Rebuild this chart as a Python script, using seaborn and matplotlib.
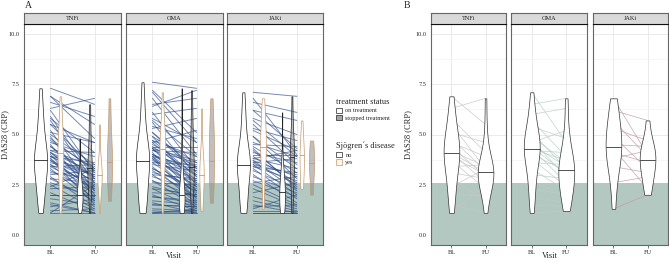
import numpy as np
import pandas as pd
import matplotlib.pyplot as plt
import seaborn as sns
from matplotlib.patches import Patch

# ---------- data: DAS28 (CRP) at baseline (BL) and follow-up (FU) ----------
drugs = ["TNFi", "OMA", "JAKi"]
visits = ["BL", "FU"]
y_ticks = [0.0, 2.5, 5.0, 7.5, 10.0]
remission_cut = 2.6

# Sjögren = no
tnfi_no_bl = [7.3, 6.9, 6.6, 6.2, 5.9, 5.7, 5.5, 5.2, 5.0, 4.9, 4.7, 4.5, 4.4, 4.2, 4.1, 4.0, 3.9, 3.9, 3.8, 3.8,
              3.7, 3.6, 3.5, 3.5, 3.4, 3.3, 3.2, 3.0, 2.9, 2.8, 2.6, 2.5, 2.3, 2.1, 2.0, 1.8, 1.6, 1.4, 1.2, 1.1]
tnfi_no_fu = [6.5, 4.8, 5.9, 3.1, 2.8, 2.6, 4.6, 2.2, 3.5, 2.0, 3.3, 1.9, 2.8, 4.1, 2.4, 1.7, 2.9, 3.6, 2.2, 1.5,
              2.7, 3.0, 1.8, 2.5, 2.3, 1.6, 2.1, 3.2, 1.4, 2.6, 1.9, 1.3, 2.4, 1.2, 2.0, 1.5, 1.1, 1.8, 1.3, 1.1]
tnfi_no_stop = [1, 0, 1, 0, 1, 0, 1, 0, 1, 0, 0, 0, 0, 1, 0, 0, 0, 1, 0, 0,
                0, 1, 0, 0, 0, 0, 0, 1, 0, 1, 0, 0, 1, 0, 0, 0, 0, 0, 0, 1]

oma_no_bl = [7.6, 7.2, 6.8, 6.4, 6.1, 5.8, 5.6, 5.3, 5.1, 4.9, 4.7, 4.6, 4.4, 4.3, 4.2, 4.1, 4.0, 4.0, 3.9, 3.9,
             3.9, 3.8, 3.7, 3.6, 3.5, 3.4, 3.3, 3.2, 3.1, 3.0, 2.9, 2.7, 2.6, 2.4, 2.3, 2.1, 2.0, 1.9, 1.7, 1.6,
             1.5, 1.3, 1.2, 1.1, 1.1]
oma_no_fu = [7.3, 5.1, 4.0, 7.2, 3.3, 4.6, 2.9, 5.8, 3.1, 2.5, 3.9, 2.7, 4.4, 2.2, 3.6, 2.0, 3.0, 2.6, 1.8, 3.4,
             2.4, 1.7, 2.8, 2.1, 3.2, 1.6, 2.3, 1.9, 2.7, 1.5, 2.2, 1.4, 2.5, 1.9, 1.3, 2.0, 1.2, 1.7, 1.5, 1.1,
             1.4, 1.2, 1.1, 1.3, 1.1]
oma_no_stop = [0, 1, 0, 1, 0, 0, 0, 1, 0, 0, 1, 0, 0, 0, 1, 0, 1, 0, 0, 1,
               0, 0, 0, 0, 1, 0, 0, 0, 1, 0, 0, 0, 1, 0, 0, 0, 0, 0, 0, 1,
               0, 0, 0, 0, 0]

jaki_no_bl = [7.1, 6.6, 6.2, 5.8, 5.5, 5.2, 4.9, 4.6, 4.4, 4.2, 4.0, 3.9, 3.8, 3.7, 3.7, 3.6, 3.6, 3.5, 3.5, 3.4,
              3.3, 3.2, 3.0, 2.9, 2.7, 2.5, 2.3, 2.1, 1.9, 1.7, 1.5, 1.4, 1.2, 1.1, 1.1]
jaki_no_fu = [6.9, 6.1, 4.3, 5.0, 3.5, 4.2, 2.8, 3.9, 3.1, 2.4, 4.0, 2.6, 3.3, 2.2, 2.9, 3.8, 2.5, 2.0, 3.0, 2.7,
              1.8, 2.3, 1.6, 2.1, 1.9, 1.5, 1.4, 2.6, 1.3, 1.2, 1.1, 1.5, 1.2, 1.1, 1.1]
jaki_no_stop = [1, 0, 0, 1, 0, 1, 0, 1, 0, 0, 1, 0, 0, 0, 0, 1, 0, 0, 1, 0,
                0, 0, 0, 0, 0, 0, 0, 1, 0, 0, 0, 0, 0, 0, 1]

# Sjögren = yes
tnfi_yes_bl = [6.9, 6.3, 5.8, 5.5, 5.1, 4.8, 4.6, 4.4, 4.2, 4.1, 4.1, 3.9, 3.7, 3.4, 3.1, 2.8, 2.4, 2.0, 1.5, 1.1]
tnfi_yes_fu = [5.5, 6.8, 4.1, 3.3, 4.6, 3.2, 3.9, 2.9, 3.4, 3.1, 2.6, 3.0, 2.3, 3.5, 2.8, 1.7, 3.3, 2.0, 1.1, 2.5]
tnfi_yes_stop = [0, 1, 0, 0, 1, 0, 1, 0, 1, 0, 0, 1, 0, 0, 0, 1, 0, 0, 0, 0]

oma_yes_bl = [7.1, 6.5, 6.0, 5.7, 5.4, 5.1, 4.9, 4.7, 4.6, 4.5, 4.4, 4.3, 4.3, 4.2, 4.0, 3.8, 3.6, 3.3, 3.0, 2.7,
              2.3, 1.9, 1.5, 1.1]
oma_yes_fu = [4.6, 6.8, 6.3, 3.9, 4.8, 3.3, 3.6, 2.9, 5.2, 3.4, 3.0, 3.7, 2.6, 4.1, 3.2, 2.4, 3.5, 2.2, 2.8, 1.9,
              2.0, 1.6, 1.4, 1.2]
oma_yes_stop = [0, 1, 0, 0, 1, 0, 1, 0, 1, 0, 0, 1, 0, 0, 0, 1, 0, 0, 0, 0, 0, 1, 0, 0]

jaki_yes_bl = [6.8, 6.2, 5.7, 5.3, 4.9, 4.5, 4.3, 4.1, 3.8, 3.4, 2.6, 1.3]
jaki_yes_fu = [4.0, 5.7, 3.9, 4.7, 3.3, 4.4, 2.3, 3.6, 4.2, 3.1, 2.9, 2.0]
jaki_yes_stop = [0, 0, 1, 1, 0, 0, 0, 1, 0, 1, 0, 1]


def make_long(drug, sjo, bl, fu, stop):
    n = len(bl)
    wide = pd.DataFrame({
        "drug": drug, "sjogren": sjo,
        "pid": [f"{drug}-{sjo}-{i}" for i in range(n)],
        "BL": bl, "FU": fu,
        "status": np.where(np.array(stop) == 1, "stopped", "on"),
    })
    return wide.melt(id_vars=["drug", "sjogren", "pid", "status"], value_vars=visits,
                     var_name="visit", value_name="das28")


df = pd.concat([
    make_long("TNFi", "no", tnfi_no_bl, tnfi_no_fu, tnfi_no_stop),
    make_long("OMA", "no", oma_no_bl, oma_no_fu, oma_no_stop),
    make_long("JAKi", "no", jaki_no_bl, jaki_no_fu, jaki_no_stop),
    make_long("TNFi", "yes", tnfi_yes_bl, tnfi_yes_fu, tnfi_yes_stop),
    make_long("OMA", "yes", oma_yes_bl, oma_yes_fu, oma_yes_stop),
    make_long("JAKi", "yes", jaki_yes_bl, jaki_yes_fu, jaki_yes_stop),
], ignore_index=True)
df["xpos"] = df["visit"].map({"BL": 1, "FU": 2})

# ---------- style ----------
GREEN = "#b3c8c1"
BLUE = "#2b4d8a"
TAN = "#c49a6c"
DARK = "#222222"
STOP_FILL = (0.55, 0.55, 0.55, 0.55)
B_LINE = {"TNFi": "#c6c6c6", "OMA": "#b6cfc7", "JAKi": "#c49ca6"}

sns.set_style("white")
plt.rcParams["font.family"] = ["Liberation Serif", "DejaVu Serif"]

W, H = 669, 262
fig = plt.figure(figsize=(W / 100, H / 100), dpi=100)


def px_axes(x0, x1, y0, y1):
    return fig.add_axes([x0 / W, 1 - y1 / H, (x1 - x0) / W, (y1 - y0) / H])


def violin(ax, vals, pos, width, edge, fill):
    n_lines = len(ax.lines)
    n_coll = len(ax.collections)
    sns.violinplot(x=np.full(len(vals), pos), y=vals, native_scale=True, orient="x",
                   width=width, cut=0, density_norm="width", inner="quart",
                   color="white", saturation=1, linecolor=edge, linewidth=0.5,
                   inner_kws=dict(linewidth=0.6, color=edge, zorder=3.5),
                   zorder=3, ax=ax)
    for c in ax.collections[n_coll:]:
        c.set_facecolor(fill)
    # keep only the median line (ggplot draw_quantiles = 0.5)
    new = ax.lines[n_lines:]
    if len(new) == 3:
        new[0].remove()
        new[2].remove()
        new[1].set_linestyle("-")


def style_panel(ax, first):
    ax.set_xlim(0.4, 2.6)
    ax.set_ylim(-0.5, 10.5)
    ax.set_xticks([1, 2])
    ax.set_xticklabels(visits)
    ax.set_yticks(y_ticks)
    ax.set_yticks([1.25, 3.75, 6.25, 8.75], minor=True)
    ax.set_xlabel("")
    ax.set_ylabel("")
    ax.grid(True, which="major", color="#e6e6e6", lw=0.6)
    ax.grid(True, which="minor", axis="y", color="#f0f0f0", lw=0.4)
    ax.set_axisbelow(True)
    ax.axhspan(-0.5, remission_cut, color=GREEN, lw=0, zorder=0.8)
    for s in ax.spines.values():
        s.set_color("#666666")
        s.set_linewidth(0.8)
    ax.tick_params(axis="both", which="major", direction="out", length=2, width=0.5,
                   color="#444444", labelsize=4.5, pad=1.5, bottom=True)
    ax.tick_params(axis="y", which="minor", left=False)
    if first:
        ax.set_yticklabels([f"{t:.1f}" for t in y_ticks])
    else:
        ax.tick_params(axis="y", left=False, labelleft=False)


def strip(x0, x1, label):
    s = px_axes(x0, x1, 13, 24)
    s.set_facecolor("#d9d9d9")
    s.set_xticks([])
    s.set_yticks([])
    for sp in s.spines.values():
        sp.set_color("#666666")
        sp.set_linewidth(0.8)
    s.spines["bottom"].set_color("#111111")
    s.text(0.5, 0.5, label, ha="center", va="center", fontsize=4.5, transform=s.transAxes)


# ---------- Panel A ----------
a_x = [(24, 121), (126, 223), (227, 323)]
for i, drug in enumerate(drugs):
    ax = px_axes(a_x[i][0], a_x[i][1], 24, 245)
    d = df[df["drug"] == drug]
    sns.lineplot(data=d, x="xpos", y="das28", units="pid", estimator=None, color=BLUE,
                 lw=0.7, alpha=0.65, legend=False, zorder=1.5, ax=ax)
    bl = d[d["visit"] == "BL"]
    fu = d[d["visit"] == "FU"]
    violin(ax, bl[bl["sjogren"] == "no"]["das28"].values, 1 - 0.225, 0.30, DARK, "white")
    violin(ax, bl[bl["sjogren"] == "yes"]["das28"].values, 1 + 0.225, 0.13, TAN, "white")
    groups = [("no", "on", -0.3375, 0.13, DARK, "white"),
              ("no", "stopped", -0.1125, 0.10, DARK, STOP_FILL),
              ("yes", "on", 0.1125, 0.10, TAN, "white"),
              ("yes", "stopped", 0.3375, 0.12, TAN, STOP_FILL)]
    for sjo, st, off, w, ec, fc in groups:
        sub = fu[(fu["sjogren"] == sjo) & (fu["status"] == st)]["das28"].values
        violin(ax, sub, 2 + off, w, ec, fc)
    style_panel(ax, i == 0)
    strip(a_x[i][0], a_x[i][1], drug)

# ---------- Panel B (Sjögren patients) ----------
b_x = [(431, 506), (511, 587), (593, 668)]
for i, drug in enumerate(drugs):
    ax = px_axes(b_x[i][0], b_x[i][1], 24, 245)
    d = df[(df["drug"] == drug) & (df["sjogren"] == "yes")]
    sns.lineplot(data=d, x="xpos", y="das28", units="pid", estimator=None, color=B_LINE[drug],
                 lw=0.5, alpha=0.9, legend=False, zorder=1.5, ax=ax)
    for v, pos in zip(visits, [1, 2]):
        violin(ax, d[d["visit"] == v]["das28"].values, pos, 0.46, "#333333", "white")
    style_panel(ax, i == 0)
    strip(b_x[i][0], b_x[i][1], drug)

# ---------- titles / labels ----------
fig.text(25 / W, 1 - 5 / H, "A", fontsize=7, ha="left", va="center")
fig.text(404 / W, 1 - 5 / H, "B", fontsize=7, ha="left", va="center")
fig.text(5 / W, 1 - 134.5 / H, "DAS28 (CRP)", rotation=90, fontsize=6, ha="center", va="center")
fig.text(408 / W, 1 - 134.5 / H, "DAS28 (CRP)", rotation=90, fontsize=6, ha="center", va="center")
fig.text(173.5 / W, 1 - 256 / H, "Visit", fontsize=6, ha="center", va="center")
fig.text(549.5 / W, 1 - 256 / H, "Visit", fontsize=6, ha="center", va="center")

# ---------- legends ----------
leg_kw = dict(loc="upper left", frameon=False, fontsize=4.5, title_fontsize=6,
              handlelength=1.0, handleheight=0.9, handletextpad=0.5, labelspacing=0.25,
              borderpad=0, borderaxespad=0, alignment="left")
h1 = [Patch(facecolor="white", edgecolor=DARK, lw=0.5),
      Patch(facecolor="#a6a6a6", edgecolor=DARK, lw=0.5)]
fig.legend(h1, ["on treatment", "stopped treatment"], title="treatment status",
           bbox_to_anchor=(336 / W, 1 - 98 / H), **leg_kw)
h2 = [Patch(facecolor="white", edgecolor=DARK, lw=0.5),
      Patch(facecolor="#fbf5ec", edgecolor=TAN, lw=0.5)]
fig.legend(h2, ["no", "yes"], title="Sjögren´s disease",
           bbox_to_anchor=(336 / W, 1 - 142 / H), **leg_kw)

fig.savefig("out.png", dpi=100)
